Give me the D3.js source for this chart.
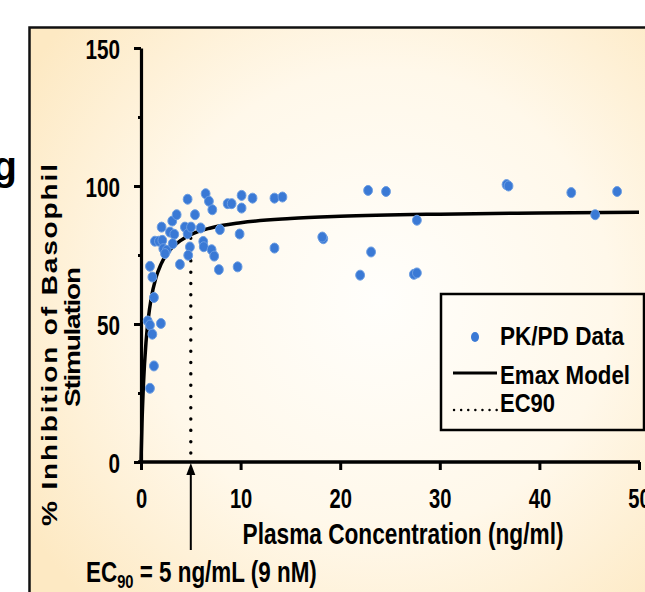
<!DOCTYPE html>
<html>
<head>
<meta charset="utf-8">
<script src="https://cdn.jsdelivr.net/npm/d3@7"></script>
<style>
    body{ margin:0; background:#fff; }
    text{ font-family:"Liberation Sans", Arial, sans-serif; font-weight:bold; fill:#000; }
</style>
</head>
<body>
<svg id="chart" width="645" height="592"></svg>
<script>
    // measured points (plasma conc ng/ml, % inhibition)
    var concX = [0.67,0.90,1.14,2.00,1.30,0.90,1.30,1.14,0.90,1.40,1.80,2.14,2.07,2.24,2.58,2.41,2.91,3.14,3.34,3.18,
                 3.58,3.91,4.41,4.68,4.68,4.91,4.74,5.02,5.42,5.99,6.25,6.30,6.49,6.82,7.16,7.09,7.35,7.92,7.82,8.70,
                 9.10,10.1,10.1,9.90,9.70,11.2,13.4,14.2,13.4,18.3,18.2,22.8,24.6,23.1,22.0,27.7,27.4,27.7,36.7,36.9,
                 43.2,47.8,45.6];
    var inhibY = [51.1,49.6,46.3,50.2,34.8,26.7,59.6,67.0,70.9,80.0,80.0,80.3,85.1,77.3,76.7,75.5,83.3,87.3,82.5,79.1,
                  89.6,71.6,85.1,82.7,95.2,77.9,74.9,85.1,89.6,84.8,79.9,78.0,97.2,94.5,91.4,76.9,74.6,84.2,69.7,93.6,
                  93.6,96.6,92.0,82.6,70.7,95.6,95.6,96.0,77.5,80.9,81.5,98.4,98.0,76.1,67.7,87.6,68.0,68.5,100.5,100.0,
                  97.6,98.0,89.6];

    // Emax model line
    var curveX = [0,0.1,0.25,0.5,0.75,1,1.5,2,3,4,5,7,10,15,20,30,40,50];
    var curveY = [0,14.0,28.4,43.3,52.5,58.8,66.8,71.6,77.2,80.3,82.4,84.8,86.7,88.2,89.0,89.8,90.2,90.5];

    var ec90X = 5;
    var ec90Y = 82.4;

    var xTicks = [0,10,20,30,40,50];
    var yTicks = [0,50,100,150];
    var yMinor = [25,75,125];
    var legendNames = ["PK/PD Data","Emax Model","EC90"];

    var svg = d3.select("#chart");

    var defs = svg.append("defs");
    var grad = defs.append("radialGradient").attr("id","bg")
        .attr("gradientUnits","userSpaceOnUse")
        .attr("cx",380).attr("cy",300).attr("r",420);
    grad.append("stop").attr("offset","0%").attr("stop-color","#fffefb");
    grad.append("stop").attr("offset","55%").attr("stop-color","#fff8ea");
    grad.append("stop").attr("offset","100%").attr("stop-color","#fde9c3");

    // slide frame
    svg.append("rect")
        .attr("x",29.5).attr("y",27.5).attr("width",700).attr("height",700)
        .attr("fill","url(#bg)").attr("stroke","#111").attr("stroke-width",2.5);

    // cut off word at the left
    svg.append("text").attr("x",17).attr("y",180).attr("text-anchor","end")
        .style("font-size","40px").text("g");

    var x = d3.scaleLinear().domain([0,50]).range([141,639]);
    var y = d3.scaleLinear().domain([0,150]).range([462,48]);

    function squeeze(t, px, py, w){
        var n = t.node().getComputedTextLength();
        t.attr("transform","translate(" + px + "," + py + ") scale(" + (w / n) + ",1)");
    }

    // y axis
    var gy = svg.append("g").attr("transform","translate(141,0)")
        .call(d3.axisLeft(y).tickValues(yTicks).tickSize(7).tickSizeOuter(0).tickFormat(d3.format("d")));
    gy.select(".domain").attr("stroke","#000").attr("stroke-width",3.2);
    gy.selectAll(".tick line").attr("stroke","#000").attr("stroke-width",3);
    gy.selectAll(".tick text")
        .attr("x",0).attr("dy",null).attr("y",10)
        .attr("text-anchor","end").attr("fill","#000")
        .style("font-size","28px").style("font-family",null)
        .attr("transform","translate(-21,0) scale(0.74,1)");
    var gyMinor = svg.append("g").attr("transform","translate(141,0)")
        .call(d3.axisLeft(y).tickValues(yMinor).tickSize(3).tickSizeOuter(0).tickFormat(""));
    gyMinor.select(".domain").remove();
    gyMinor.selectAll(".tick line").attr("stroke","#000").attr("stroke-width",3);

    // x axis
    var gx = svg.append("g").attr("transform","translate(0,462)")
        .call(d3.axisBottom(x).tickValues(xTicks).tickSize(8).tickSizeOuter(0));
    gx.select(".domain").attr("stroke","#000").attr("stroke-width",3.5)
        .attr("d","M138,0H640");
    gx.selectAll(".tick line").attr("stroke","#000").attr("stroke-width",3);
    gx.selectAll(".tick text")
        .attr("y",0).attr("dy",null).attr("fill","#000")
        .style("font-size","28px").style("font-family",null)
        .attr("transform","translate(0,46) scale(0.72,1)");

    // axis titles
    var xt = svg.append("text").attr("text-anchor","middle").style("font-size","29px")
        .text("Plasma Concentration (ng/ml)");
    squeeze(xt, 403, 544, 321);

    svg.append("text").attr("text-anchor","middle").style("font-size","28px")
        .attr("textLength",362).attr("lengthAdjust","spacing")
        .attr("transform","translate(57,345) scale(0.76,1) rotate(-90)")
        .text("% Inhibition of Basophil");
    svg.append("text").attr("text-anchor","middle").style("font-size","28px")
        .attr("textLength",140).attr("lengthAdjust","spacing")
        .attr("transform","translate(80,337) scale(0.76,1) rotate(-90)")
        .text("Stimulation");

    // Emax curve
    var line = d3.line().x(function(d){ return x(d[0]); }).y(function(d){ return y(d[1]); })
        .curve(d3.curveMonotoneX);
    svg.append("path").datum(d3.zip(curveX, curveY))
        .attr("d", line).attr("fill","none").attr("stroke","#000").attr("stroke-width",3.5);

    // EC90 dotted line
    svg.append("line")
        .attr("x1",x(ec90X)).attr("x2",x(ec90X)).attr("y1",y(0) - 9).attr("y2",y(ec90Y))
        .attr("stroke","#000").attr("stroke-width",3.4)
        .attr("stroke-linecap","round").attr("stroke-dasharray","0.1 11.2");

    // data points
    svg.append("g").selectAll("ellipse").data(d3.zip(concX, inhibY)).enter().append("ellipse")
        .attr("cx",function(d){ return x(d[0]); })
        .attr("cy",function(d){ return y(d[1]); })
        .attr("rx",4.4).attr("ry",5)
        .attr("fill","#3a79d5").attr("stroke","#6b9de2").attr("stroke-width",1);

    // arrow + EC90 note
    svg.append("line").attr("x1",x(ec90X)).attr("x2",x(ec90X)).attr("y1",550).attr("y2",472)
        .attr("stroke","#000").attr("stroke-width",2);
    svg.append("path")
        .attr("d","M" + x(ec90X) + ",463 l-4.5,12 h9 Z").attr("fill","#000");

    var note = svg.append("text").style("font-size","29px");
    note.append("tspan").text("EC");
    note.append("tspan").attr("dy",6).style("font-size","19px").text("90");
    note.append("tspan").attr("dy",-6).text(" = 5 ng/mL (9 nM)");
    squeeze(note, 86, 582, 231);

    // legend
    var lg = svg.append("g");
    lg.append("rect").attr("x",441).attr("y",294).attr("width",203).attr("height",136)
        .attr("fill","none").attr("stroke","#000").attr("stroke-width",2.5);
    lg.append("ellipse").attr("cx",475).attr("cy",337).attr("rx",4).attr("ry",5)
        .attr("fill","#3a79d5");
    lg.append("line").attr("x1",453).attr("x2",497).attr("y1",373).attr("y2",373)
        .attr("stroke","#000").attr("stroke-width",3);
    lg.append("line").attr("x1",454).attr("x2",497).attr("y1",410).attr("y2",410)
        .attr("stroke","#000").attr("stroke-width",2.4)
        .attr("stroke-linecap","round").attr("stroke-dasharray","0.1 7");
    var legBase = [345,384,412];
    var legW = [124,130,55];
    legendNames.forEach(function(name, i){
        var t = lg.append("text").style("font-size","26px").text(name);
        squeeze(t, 500, legBase[i], legW[i]);
    });
</script>
</body>
</html>
